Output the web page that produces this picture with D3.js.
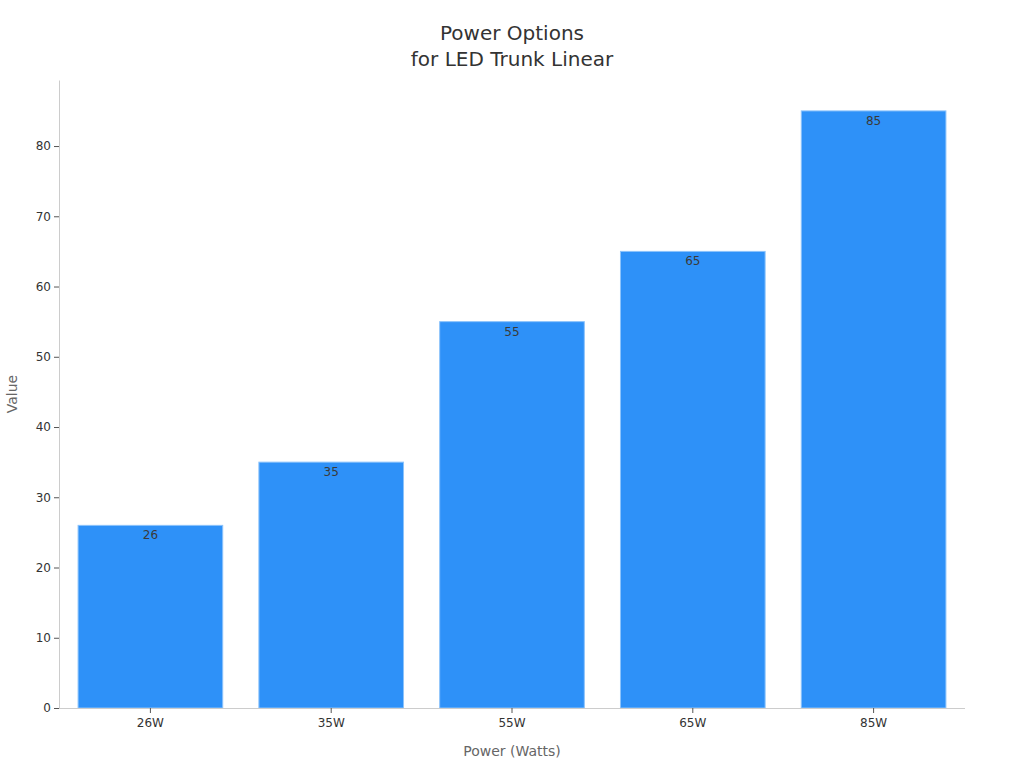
<!DOCTYPE html>
<html>
<head>
<meta charset="utf-8">
<script src="https://cdn.jsdelivr.net/npm/d3@7"></script>
<style>
  body { margin: 0; background: #fff; font-family: "DejaVu Sans", sans-serif; }
</style>
</head>
<body>
<div id="chart"></div>
<script>
const categorias = ["26W", "35W", "55W", "65W", "85W"]
const valores = [26, 35, 55, 65, 85]
const ticksY = [0, 10, 20, 30, 40, 50, 60, 70, 80]

const ancho = 1024
const alto = 768
const margen = { izquierdo: 59, derecho: 61, superior: 80, inferior: 60 }

const svg = d3.select("#chart").append("svg").attr("width", ancho).attr("height", alto)

const x = d3.scaleBand().domain(categorias)
  .range([margen.izquierdo + 1, ancho - margen.derecho + 1])
  .paddingInner(0.2).paddingOuter(0.1)
const y = d3.scaleLinear().domain([0, 89.4])
  .range([alto - margen.inferior, margen.superior])

// titulo
svg.append("text").attr("x", ancho / 2).attr("y", 40).attr("text-anchor", "middle")
  .attr("font-size", 20).attr("fill", "#333").text("Power Options")
svg.append("text").attr("x", ancho / 2).attr("y", 66).attr("text-anchor", "middle")
  .attr("font-size", 20).attr("fill", "#333").text("for LED Trunk Linear")

// barras
svg.append("g").selectAll("rect").data(valores).enter().append("rect")
  .attr("x", (d, i) => x(categorias[i]))
  .attr("y", d => y(d))
  .attr("width", x.bandwidth())
  .attr("height", d => y(0) - y(d))
  .attr("fill", "#2e91f8")
  .attr("stroke", "#8cc3fb")
  .attr("stroke-width", 1)

svg.append("g").selectAll("text").data(valores).enter().append("text")
  .attr("x", (d, i) => x(categorias[i]) + x.bandwidth() / 2)
  .attr("y", d => y(d) + 14)
  .attr("text-anchor", "middle")
  .attr("font-size", 12)
  .attr("fill", "#3a3a3a")
  .text(d => d)

// ejes
const ejeX = svg.append("g").attr("transform", `translate(0, ${y(0)})`)
  .call(d3.axisBottom(x).tickSize(5).tickSizeOuter(0))
ejeX.select(".domain").attr("stroke", "#ccc").attr("d", `M${margen.izquierdo},0.5H${ancho - margen.derecho + 2}`)
ejeX.selectAll(".tick line").attr("stroke", "#555")
ejeX.selectAll(".tick text").attr("font-size", 12).attr("fill", "#333")
  .attr("font-family", "DejaVu Sans").attr("dy", "0.9em")

const ejeY = svg.append("g").attr("transform", `translate(${margen.izquierdo}, 0)`)
  .call(d3.axisLeft(y).tickValues(ticksY).tickSize(5).tickSizeOuter(0))
ejeY.select(".domain").attr("stroke", "#ccc")
ejeY.selectAll(".tick line").attr("stroke", "#555")
ejeY.selectAll(".tick text").attr("font-size", 12).attr("fill", "#333")
  .attr("font-family", "DejaVu Sans")

// etiquetas de ejes
svg.append("text").attr("x", ancho / 2).attr("y", 756).attr("text-anchor", "middle")
  .attr("font-size", 14).attr("fill", "#666").text("Power (Watts)")
svg.append("text").attr("transform", `translate(17, ${(margen.superior + y(0)) / 2}) rotate(-90)`)
  .attr("text-anchor", "middle").attr("font-size", 14).attr("fill", "#666").text("Value")
</script>
</body>
</html>
